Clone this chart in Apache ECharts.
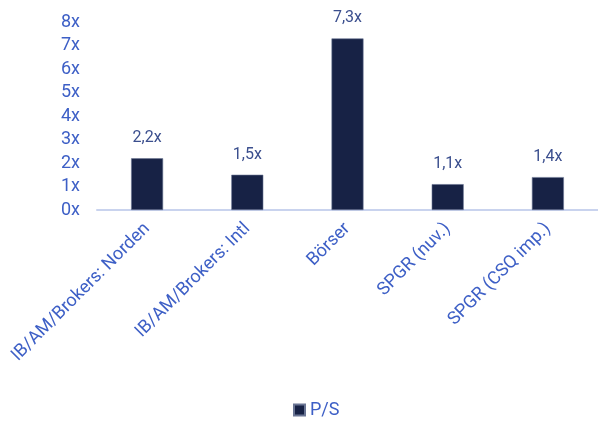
<!DOCTYPE html>
<html><head><meta charset="utf-8">
<script src="https://cdn.jsdelivr.net/npm/echarts@6/dist/echarts.min.js"></script>
<style>html,body{margin:0;padding:0;background:#fff}#c{width:598px;height:421px}</style>
</head><body><div id="c"></div>
<script>
const categories = ["IB/AM/Brokers: Norden", "IB/AM/Brokers: Intl", "Börser", "SPGR (nuv.)", "SPGR (CSQ imp.)"];
const psValues = [2.2, 1.5, 7.3, 1.1, 1.4];
const seriesName = "P/S";

const chart = echarts.init(document.getElementById('c'), null, {renderer: 'canvas'});
chart.setOption({
  animation: false,
  textStyle: {fontFamily: 'Roboto'},
  grid: {left: 97, top: 22, width: 508, height: 188, containLabel: false},
  legend: {
    top: 401, left: 293, itemWidth: 11, itemHeight: 11, itemGap: 4, padding: 0,
    icon: 'rect',
    textStyle: {color: '#3d5fc6', fontSize: 18, fontFamily: 'Roboto', padding: [0, 0, 0, 0]},
    data: [seriesName]
  },
  xAxis: {
    type: 'category', data: categories,
    axisLine: {lineStyle: {color: '#c9d3ee', width: 2}},
    axisTick: {show: false},
    axisLabel: {rotate: 45, interval: 0, color: '#3d5fc6', fontSize: 18, margin: 16, fontFamily: 'Roboto'}
  },
  yAxis: {
    type: 'value', min: 0, max: 8, interval: 1,
    splitLine: {show: false},
    axisLine: {show: false}, axisTick: {show: false},
    axisLabel: {formatter: v => v + 'x', color: '#3d5fc6', fontSize: 18, margin: 17, fontFamily: 'Roboto'}
  },
  series: [{
    name: seriesName, type: 'bar', data: psValues, barWidth: 32,
    itemStyle: {color: '#172245', borderColor: '#6a7594', borderWidth: 0.6},
    label: {show: true, position: 'top', distance: 12, color: '#3b4f8e', fontSize: 16,
      formatter: p => String(p.value).replace('.', ',') + 'x', fontFamily: 'Roboto'}
  }]
});
</script></body></html>
